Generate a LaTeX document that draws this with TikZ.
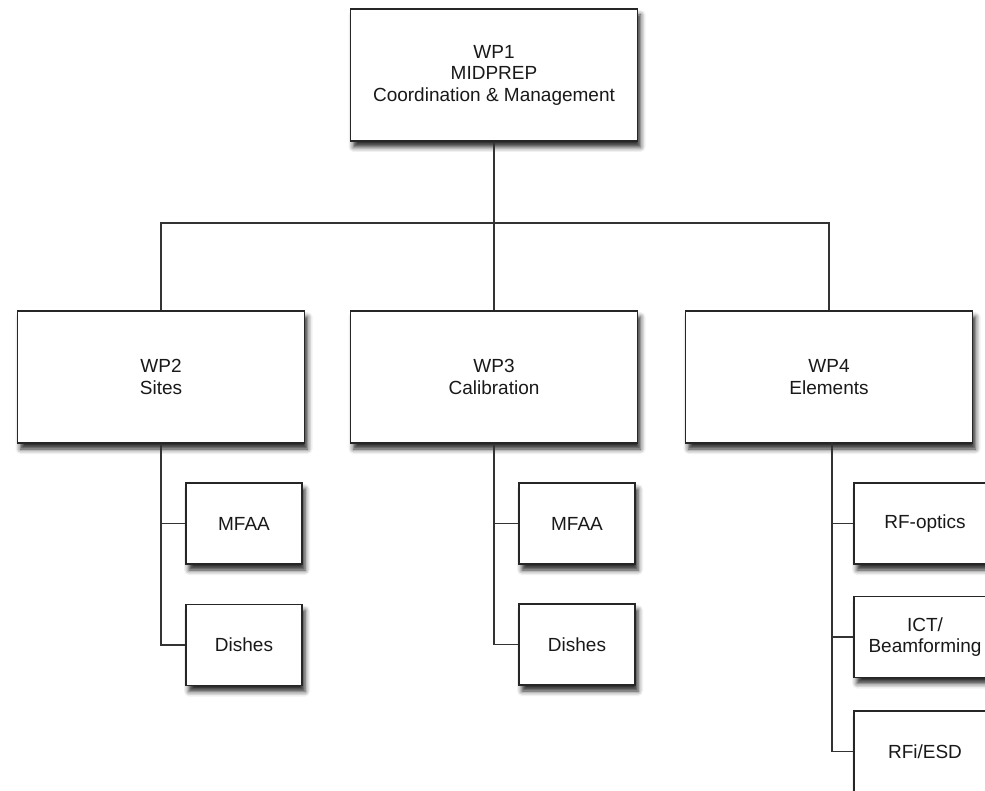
\documentclass[tikz,border=0pt]{standalone}
\usepackage{fontspec}
\setmainfont{Liberation Sans}
\usetikzlibrary{shadows.blur}
\tikzset{
  box/.style={draw=black!85, line width=1.4pt, fill=white, align=center, text=black!90,
    font=\fontsize{19}{21.5}\selectfont,
    blur shadow={shadow xshift=3pt, shadow yshift=-6pt, shadow blur radius=5pt, shadow opacity=85}},
  bigbox/.style={box, minimum width=287pt, minimum height=132pt},
  subbox/.style={box, minimum width=116pt, minimum height=81pt},
  wide/.style={box, minimum width=142pt, minimum height=81pt},
  link/.style={draw=black!80, line width=1.5pt}
}
\begin{document}
\begin{tikzpicture}[x=1pt,y=-1pt]
\useasboundingbox (0,0) rectangle (985,791);
\clip (0,0) rectangle (985,791);
\coordinate (bar) at (494,223);
\node[bigbox] (wp1) at (494,75) {WP1\\MIDPREP\\Coordination \& Management};
\node[bigbox] (wp2) at (161,377) {WP2\\Sites};
\node[bigbox] (wp3) at (494,377) {WP3\\Calibration};
\node[bigbox] (wp4) at (829,377) {WP4\\Elements};
\node[subbox] (m2) at (244,523.5) {MFAA};
\node[subbox] (d2) at (244,645) {Dishes};
\node[subbox] (m3) at (577,523.5) {MFAA};
\node[subbox] (d3) at (577,644.5) {Dishes};
\node[wide] (r1) at (925,523.5) {RF-optics};
\node[wide] (r2) at (925,637) {ICT/\\Beamforming};
\node[wide] (r3) at (925,751.5) {RFi/ESD};
\path[link] (wp1.south) -- (wp3.north);
\path[link] (wp2.north) |- (bar) -| (wp4.north);
\path[link] (wp2.south) |- (d2.west);
\path[link] (wp2.south |- m2.west) -- (m2.west);
\path[link] (wp3.south) |- (d3.west);
\path[link] (wp3.south |- m3.west) -- (m3.west);
\coordinate (v4) at (832,443);
\path[link] (v4) |- (r3.west);
\path[link] (v4 |- r1.west) -- (r1.west);
\path[link] (v4 |- r2.west) -- (r2.west);
\end{tikzpicture}
\end{document}
